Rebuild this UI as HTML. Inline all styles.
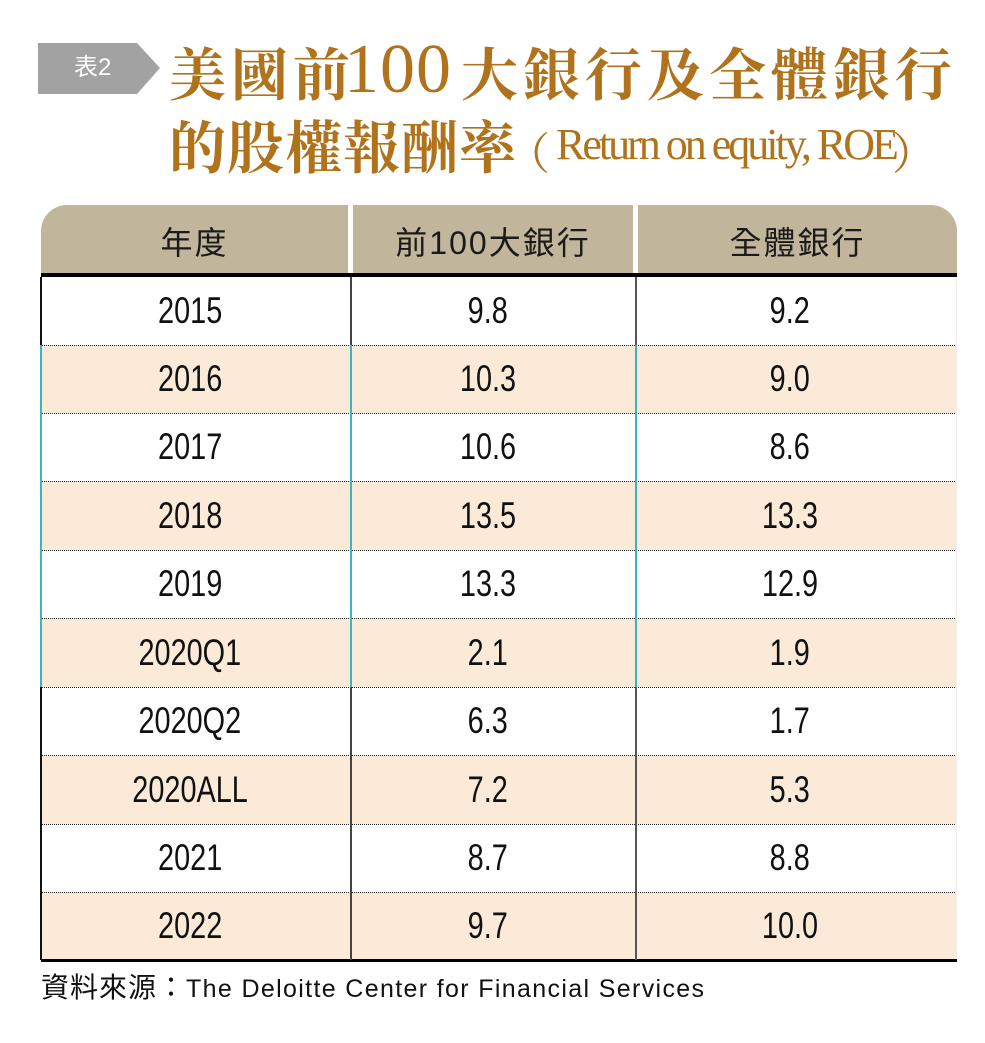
<!DOCTYPE html>
<html><head><meta charset="utf-8">
<style>
html,body{margin:0;padding:0;background:#fff;}
body{width:985px;height:1043px;position:relative;overflow:hidden;}
.a{position:absolute;white-space:nowrap;}
.t{font-family:"Noto Serif CJK SC","Noto Serif CJK TC",serif;font-weight:700;color:#b0731c;line-height:58px;font-size:57px;}
.hd{position:absolute;top:205px;height:68px;background:#c1b59b;display:flex;align-items:center;justify-content:center;font-family:"Liberation Sans","Noto Sans CJK TC",sans-serif;font-size:32px;letter-spacing:2px;color:#1a1a1a;padding-top:4px;box-sizing:border-box;}
.row{position:absolute;left:41px;width:916px;}
.peach{background:#fcead8;}
.dot{border-top:1px dotted #222;}
.c{position:absolute;top:0;height:100%;width:0;display:flex;justify-content:center;align-items:center;}
.c span{display:inline-block;font-family:"Liberation Sans",sans-serif;font-size:37px;color:#111;transform:scaleX(0.78);white-space:nowrap;line-height:38px;margin-top:-1px;}
.v{position:absolute;width:2px;}
</style></head><body>

<!-- tag -->
<svg class="a" style="left:0;top:0" width="200" height="110">
<polygon points="38,43 137,43 160,68 137,94 38,94" fill="#a2a2a2"/>
</svg>
<div class="a" style="left:74px;top:53px;font-family:'Liberation Sans','Noto Sans CJK TC',sans-serif;font-size:24px;line-height:30px;color:#fff;">表2</div>

<!-- title line 1 -->
<div class="a t" style="left:169px;top:42px;letter-spacing:5px;">美國前</div>
<div class="a" style="left:344px;top:35px;font-family:'Liberation Serif',serif;font-size:70px;line-height:70px;color:#b0731c;letter-spacing:1px;">100</div>
<div class="a t" style="left:461px;top:42px;letter-spacing:5px;">大銀行及全體銀行</div>

<!-- title line 2 -->
<div class="a t" style="left:169px;top:115px;letter-spacing:1px;">的股權報酬率</div>
<div class="a" style="left:506px;top:128px;font-family:'Noto Serif CJK SC',serif;font-size:44px;line-height:44px;color:#b0731c;">（</div>
<div class="a" style="left:556px;top:123px;font-family:'Liberation Serif',serif;font-size:44px;line-height:44px;color:#b0731c;letter-spacing:-3px;">Return on equity, ROE</div>
<div class="a" style="left:892px;top:128px;font-family:'Noto Serif CJK SC',serif;font-size:44px;line-height:44px;color:#b0731c;">）</div>

<!-- header -->
<div class="hd" style="left:41px;width:307px;border-top-left-radius:26px;">年度</div>
<div class="hd" style="left:353px;width:280px;">前100大銀行</div>
<div class="hd" style="left:638px;width:319px;border-top-right-radius:26px;">全體銀行</div>
<div class="a" style="left:41px;top:273px;width:916px;height:4px;background:#000;"></div>

<!-- rows -->
<div class="row" style="top:277px;height:68px;">
<div class="c" style="left:149px"><span>2015</span></div><div class="c" style="left:447px"><span>9.8</span></div><div class="c" style="left:749px"><span>9.2</span></div></div>
<div class="row peach dot" style="top:345px;height:67px;">
<div class="c" style="left:149px"><span>2016</span></div><div class="c" style="left:447px"><span>10.3</span></div><div class="c" style="left:749px"><span>9.0</span></div></div>
<div class="row dot" style="top:413px;height:67px;">
<div class="c" style="left:149px"><span>2017</span></div><div class="c" style="left:447px"><span>10.6</span></div><div class="c" style="left:749px"><span>8.6</span></div></div>
<div class="row peach dot" style="top:481px;height:68px;">
<div class="c" style="left:149px"><span>2018</span></div><div class="c" style="left:447px"><span>13.5</span></div><div class="c" style="left:749px"><span>13.3</span></div></div>
<div class="row dot" style="top:550px;height:67px;">
<div class="c" style="left:149px"><span>2019</span></div><div class="c" style="left:447px"><span>13.3</span></div><div class="c" style="left:749px"><span>12.9</span></div></div>
<div class="row peach dot" style="top:618px;height:68px;">
<div class="c" style="left:149px"><span>2020Q1</span></div><div class="c" style="left:447px"><span>2.1</span></div><div class="c" style="left:749px"><span>1.9</span></div></div>
<div class="row dot" style="top:687px;height:67px;">
<div class="c" style="left:149px"><span>2020Q2</span></div><div class="c" style="left:447px"><span>6.3</span></div><div class="c" style="left:749px"><span>1.7</span></div></div>
<div class="row peach dot" style="top:755px;height:68px;">
<div class="c" style="left:149px"><span>2020ALL</span></div><div class="c" style="left:447px"><span>7.2</span></div><div class="c" style="left:749px"><span>5.3</span></div></div>
<div class="row dot" style="top:824px;height:67px;">
<div class="c" style="left:149px"><span>2021</span></div><div class="c" style="left:447px"><span>8.7</span></div><div class="c" style="left:749px"><span>8.8</span></div></div>
<div class="row peach dot" style="top:892px;height:67px;">
<div class="c" style="left:149px"><span>2022</span></div><div class="c" style="left:447px"><span>9.7</span></div><div class="c" style="left:749px"><span>10.0</span></div></div>
<div class="a" style="left:41px;top:959px;width:916px;height:3px;background:#000;"></div>

<!-- vertical lines -->
<div class="v" style="left:40px;top:277px;height:68px;background:#111;"></div>
<div class="v" style="left:40px;top:345px;height:342px;background:#3bb4bf;"></div>
<div class="v" style="left:40px;top:687px;height:273px;background:#111;"></div>
<div class="v" style="left:350px;top:277px;height:68px;background:#444;"></div>
<div class="v" style="left:350px;top:345px;height:342px;background:#3bb4bf;"></div>
<div class="v" style="left:350px;top:687px;height:273px;background:#444;"></div>
<div class="v" style="left:635px;top:277px;height:68px;background:#555;"></div>
<div class="v" style="left:635px;top:345px;height:342px;background:#3bb4bf;"></div>
<div class="v" style="left:635px;top:687px;height:273px;background:#555;"></div>
<div class="a" style="left:956px;top:277px;width:1px;height:682px;background:#f0ece6;"></div>

<!-- source -->
<div class="a" style="left:41px;top:971px;line-height:34px;color:#111;">
<span style="font-family:'Liberation Sans','Noto Sans CJK TC',sans-serif;font-size:28px;letter-spacing:1px;">資料來源：</span><span style="font-family:'Liberation Sans',sans-serif;font-size:25px;letter-spacing:1.35px;">The Deloitte Center for Financial Services</span>
</div>

</body></html>
